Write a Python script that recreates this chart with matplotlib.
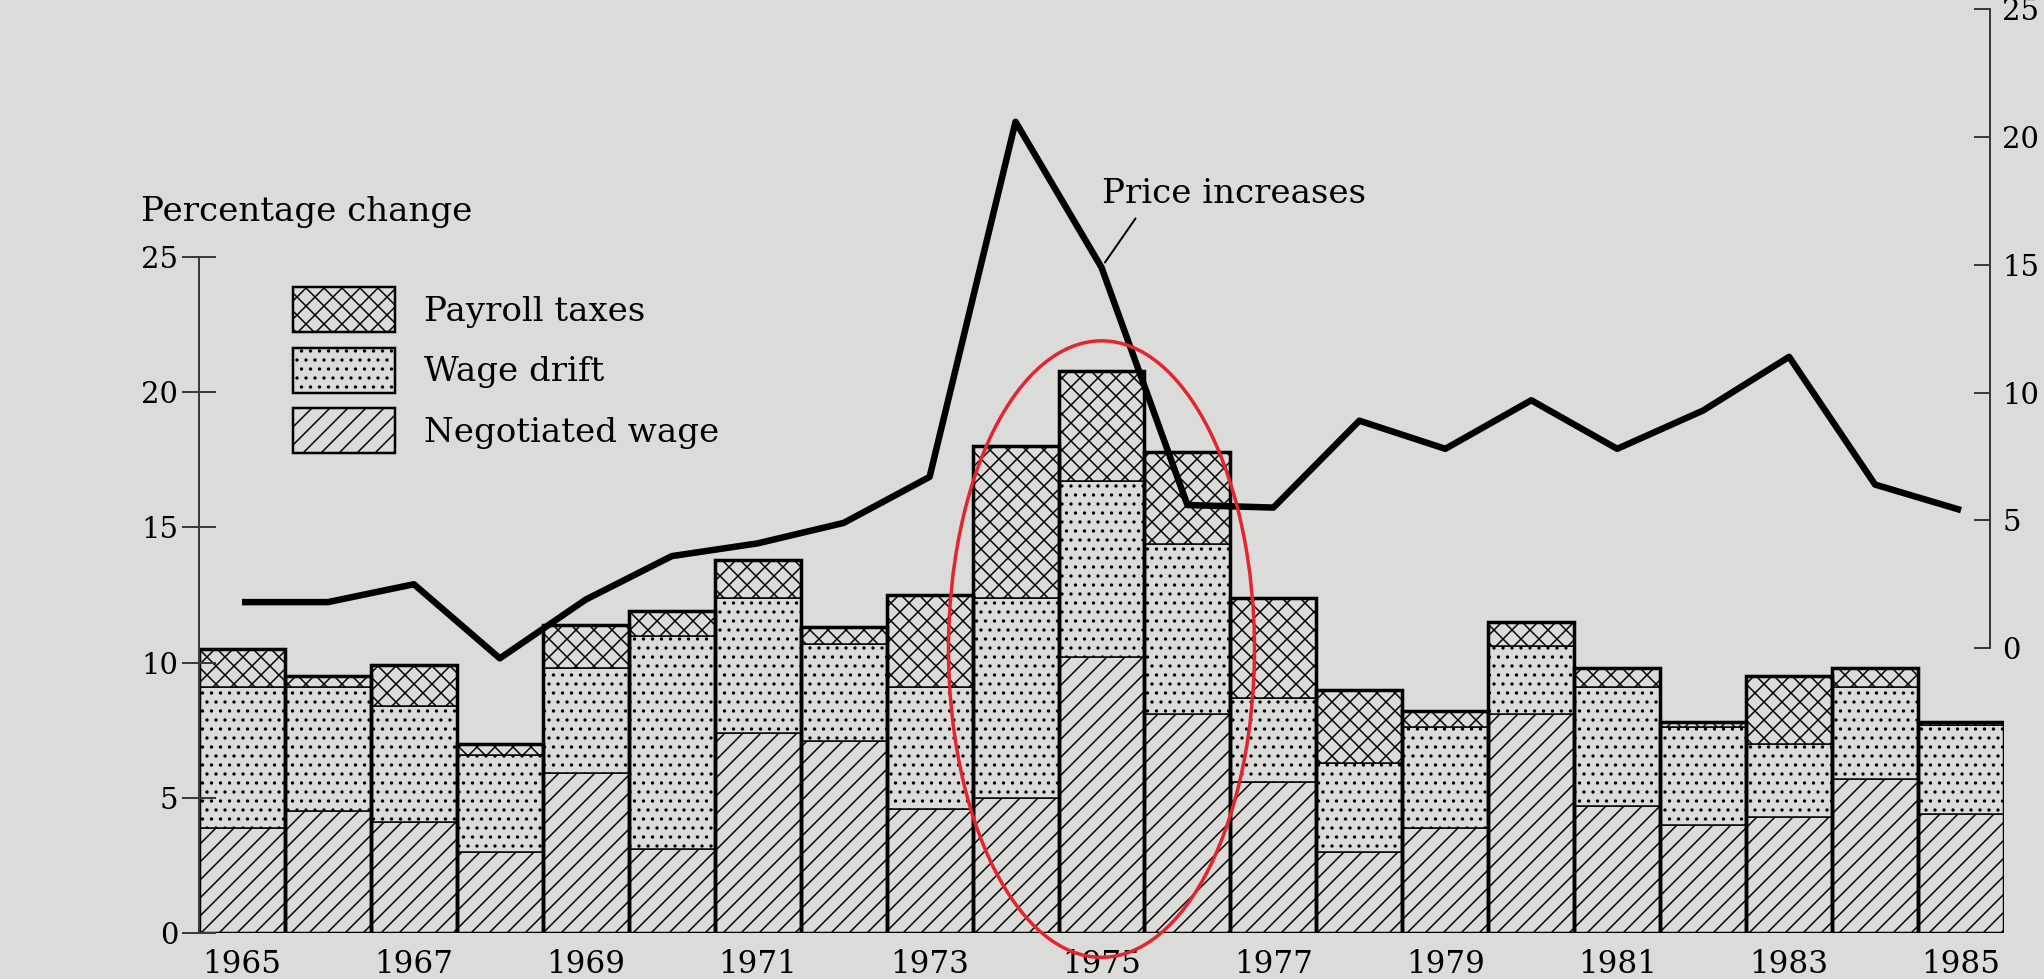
import numpy as np
import matplotlib
matplotlib.use("Agg")
import matplotlib.pyplot as plt
from matplotlib.patches import Patch, Ellipse

# data
years = list(range(1965, 1986))
negotiated = [3.9, 4.5, 4.1, 3.0, 5.9, 3.1, 7.4, 7.1, 4.6, 5.0, 10.2,
              8.1, 5.6, 3.0, 3.9, 8.1, 4.7, 4.0, 4.3, 5.7, 4.4]
wage_drift = [5.2, 4.6, 4.3, 3.6, 3.9, 7.9, 5.0, 3.6, 4.5, 7.4, 6.5,
              6.3, 3.1, 3.3, 3.7, 2.5, 4.4, 3.6, 2.7, 3.4, 3.3]
payroll = [1.4, 0.4, 1.5, 0.4, 1.6, 0.9, 1.4, 0.6, 3.4, 5.6, 4.1,
           3.4, 3.7, 2.7, 0.6, 0.9, 0.7, 0.2, 2.5, 0.7, 0.1]
prices = [1.8, 1.8, 2.5, -0.4, 1.9, 3.6, 4.1, 4.9, 6.7, 20.6, 14.9,
          5.6, 5.5, 8.9, 7.8, 9.7, 7.8, 9.3, 11.4, 6.4, 5.4]
left_ticks = [0, 5, 10, 15, 20, 25]
right_ticks = [0, 5, 10, 15, 20, 25]

BG = "#dbdbda"
DPI = 54          # low dpi so the hatch spacing comes out like the print
PT = 72 / DPI     # points per pixel
W, H = 2044, 979

plt.rcParams["font.family"] = ["DejaVu Serif"]
plt.rcParams["hatch.linewidth"] = 1.5 * PT
plt.rcParams["hatch.color"] = "black"

fig = plt.figure(figsize=(W / DPI, H / DPI), dpi=DPI, facecolor=BG)
ax = fig.add_axes([199 / W, 46 / H, 1805 / W, 928 / H])
ax.set_facecolor("none")

x = np.arange(len(years))
neg = np.array(negotiated)
drift = np.array(wage_drift)
tax = np.array(payroll)

ax.bar(x, neg, width=1, color=BG, edgecolor="black", hatch="/", lw=1.5 * PT)
ax.bar(x, drift, bottom=neg, width=1, color=BG, edgecolor="black", hatch=".", lw=1.5 * PT)
ax.bar(x, tax, bottom=neg + drift, width=1, color=BG, edgecolor="black", hatch="x", lw=1.5 * PT)
# heavy outline round each whole column
ax.bar(x, neg + drift + tax, width=1, fill=False, edgecolor="black", lw=3.5 * PT)

ax.set_xlim(-0.5, 20.5)
ax.set_ylim(0, 928 / 27.04)
for s in ["top", "right", "bottom"]:
    ax.spines[s].set_visible(False)
ax.spines["left"].set_bounds(0, 25)
ax.spines["left"].set_linewidth(2 * PT)
ax.spines["left"].set_color("#3a3a3a")
ax.set_yticks(left_ticks)
ax.tick_params(axis="y", direction="inout", length=34 * PT, width=2 * PT, color="#3a3a3a",
               labelsize=29 * PT, pad=4 * PT)
ax.set_xticks(x[::2])
ax.set_xticklabels([str(y) for y in years[::2]])
ax.tick_params(axis="x", length=0, pad=16 * PT, labelsize=31 * PT)

ax.legend(handles=[Patch(facecolor=BG, edgecolor="black", hatch="x", lw=2.5 * PT, label="Payroll taxes"),
                   Patch(facecolor=BG, edgecolor="black", hatch=".", lw=2.5 * PT, label="Wage drift"),
                   Patch(facecolor=BG, edgecolor="black", hatch="/", lw=2.5 * PT, label="Negotiated wage")],
          loc="upper left", bbox_to_anchor=(293 / W, 692 / H), bbox_transform=fig.transFigure,
          frameon=False, fontsize=34 * PT, handlelength=3.0, handleheight=1.67,
          labelspacing=0.45, handletextpad=0.85, borderpad=0, borderaxespad=0)

fig.text(141 / W, 1 - 212 / H, "Percentage change", fontsize=34 * PT, va="center", ha="left")

# price line on its own scale (right)
ax2 = ax.twinx()
ax2.set_ylim(-11.15, 25.17)
ax2.plot(x, prices, color="black", lw=6.5 * PT, solid_joinstyle="round", solid_capstyle="butt")
for s in ["top", "left", "bottom"]:
    ax2.spines[s].set_visible(False)
ax2.spines["right"].set_position(("axes", 0.9925))
ax2.spines["right"].set_bounds(0, 25)
ax2.spines["right"].set_linewidth(2 * PT)
ax2.spines["right"].set_color("#3a3a3a")
ax2.set_yticks(right_ticks)
ax2.tick_params(axis="y", direction="in", length=16 * PT, width=2 * PT, color="#3a3a3a",
                labelsize=29 * PT, pad=12 * PT)

ax2.annotate("Price increases", xy=(x[10], prices[10]), xytext=(0, 73 * PT),
             textcoords="offset points", ha="left", va="center", fontsize=34 * PT,
             arrowprops=dict(arrowstyle="-", lw=2 * PT, color="black",
                             relpos=(0.15, 0), shrinkA=8 * PT, shrinkB=6 * PT))

# red hand-drawn ring around 1974-76
ring = Ellipse((10, 10.5), 3.56, 22.8, fill=False, ec="#e3262d", lw=3.5 * PT,
               clip_on=False, zorder=10, transform=ax.transData)
ax2.add_patch(ring)

fig.savefig("out.png", dpi=DPI, facecolor=BG)
